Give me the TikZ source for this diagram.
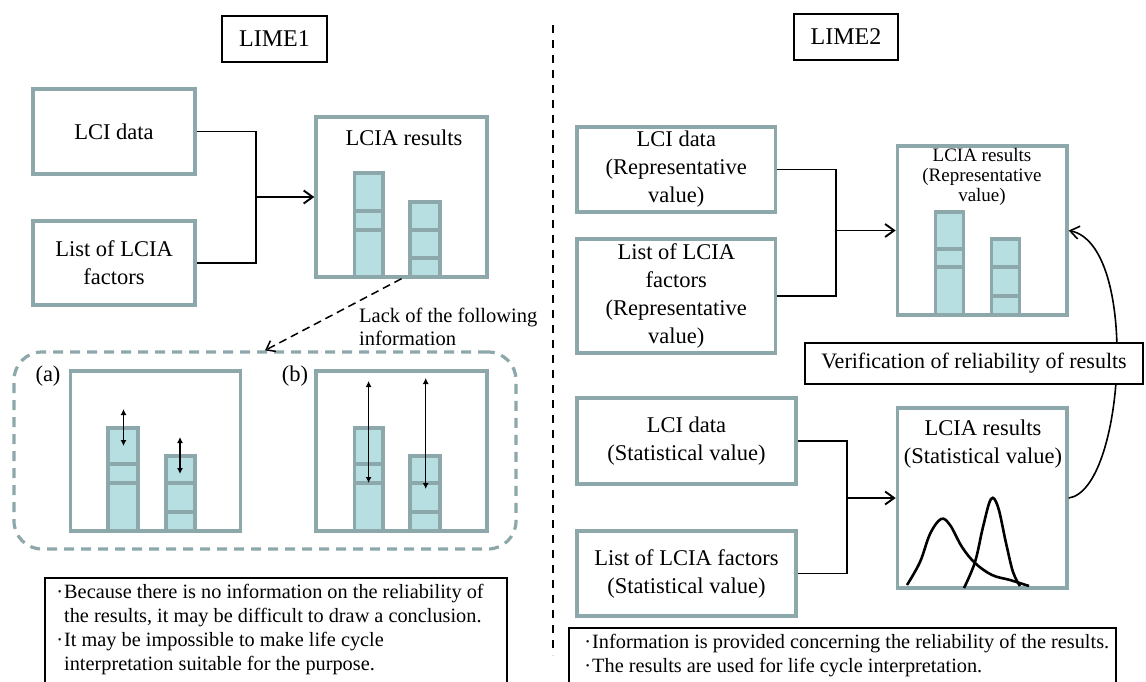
\documentclass[tikz,border=0pt]{standalone}
\usepackage{fontspec}
\setmainfont{Liberation Serif}
\usetikzlibrary{arrows.meta}
\definecolor{tealline}{RGB}{140,168,171}
\definecolor{barfill}{RGB}{183,222,224}
\newcommand{\stackbar}[6]{%
  \draw[barline] (#1,#6) rectangle (#2,#3);
  \draw[barline] (#1,#4) -- (#2,#4);
  \draw[barline] (#1,#5) -- (#2,#5);
}
\newcommand{\bul}{\makebox[9pt][c]{·}}
\tikzset{
  tbox/.style={draw=tealline, line width=3.4pt, fill=white, inner sep=0pt, align=center,
    font=\fontsize{22.5}{28}\selectfont},
  bbox/.style={draw=black, line width=1.8pt, fill=white, inner sep=0pt, align=center},
  barline/.style={draw=tealline, fill=barfill, line width=3.2pt},
  conn/.style={line width=1.9pt, black},
  arr/.style={conn, -{Straight Barb[length=9pt,width=13pt,line width=1.9pt]}},
  dbl/.style={line width=1.3pt, {Latex[length=6pt,width=6pt]}-{Latex[length=6pt,width=6pt]}},
  lbl/.style={inner sep=0pt, align=center, font=\fontsize{22.5}{28}\selectfont},
  note/.style={inner sep=0pt, align=left, font=\fontsize{20.3}{24}\selectfont},
}
\begin{document}
\begin{tikzpicture}[x=1pt,y=-1pt]
\useasboundingbox (0,0) rectangle (1146,681);
\clip (0,0) rectangle (1146,681);

% separator
\draw[line width=2pt, dash pattern=on 8pt off 7pt] (553,25) -- (553,655);

% ---------------- LIME1 ----------------
\node[bbox, minimum width=105pt, minimum height=46pt, font=\fontsize{24}{28}\selectfont] (lime1) at (274.5,39) {LIME1};

\node[tbox, minimum width=162pt, minimum height=85pt] (lci1) at (114,131.5) {LCI data};
\node[tbox, minimum width=162pt, minimum height=84pt] (lst1) at (114,263) {List of LCIA\\factors};
\node[tbox, minimum width=171pt, minimum height=160pt] (res1) at (401.5,197) {};
\node[lbl] (res1t) at (404,138) {LCIA results};
\stackbar{354.6}{383}{173}{211}{230}{277}
\stackbar{410}{440}{202}{230}{258}{277}

\coordinate (j1) at (256,197);
\draw[conn] (lci1.east) -| (j1) |- (lst1.east);
\draw[arr] (j1) -- (res1.west);

% lack box
\node[draw=tealline, line width=3.2pt, dash pattern=on 10pt off 7pt, rounded corners=28pt,
      minimum width=502pt, minimum height=197pt, inner sep=0pt] (lack) at (265,450.5) {};
\draw[line width=1.5pt, dash pattern=on 8pt off 5pt, -{Straight Barb[length=8pt,width=12pt,line width=1.5pt]}]
  (res1.south) -- (lack.north);
\node[note, anchor=west, font=\fontsize{20.5}{23}\selectfont] (lacklbl) at (359,326.5) {Lack of the following\\information};

\node[tbox, minimum width=170pt, minimum height=160pt] (suba) at (155.6,451) {};
\node[tbox, minimum width=171pt, minimum height=160pt] (subb) at (401.5,451) {};
\node[lbl] (alab) at (48,376) {(a)};
\node[lbl] (blab) at (295,376) {(b)};
\stackbar{108}{138}{428}{464}{483}{531}
\stackbar{166}{195}{456}{483}{512}{531}
\stackbar{354.6}{383}{428}{464}{483}{531}
\stackbar{410}{440}{456}{483}{512}{531}
\draw[dbl] (123.5,409) -- (123.5,446);
\draw[dbl] (180,437) -- (180,474);
\draw[dbl] (368.6,381) -- (368.6,483);
\draw[dbl] (425.7,378) -- (425.7,489);

\node[bbox, minimum width=462pt, minimum height=120pt, anchor=north west] (note1) at (44,577) {};
\node[note, anchor=north west] (note1t) at (55,584) {%
\bul Because there is no information on the reliability of\\
\hspace*{9pt}the results, it may be difficult to draw a conclusion.\\
\bul It may be impossible to make life cycle\\
\hspace*{9pt}interpretation suitable for the purpose.};

% ---------------- LIME2 ----------------
\node[bbox, minimum width=104pt, minimum height=46pt, font=\fontsize{24}{28}\selectfont] (lime2) at (846,37) {LIME2};

\node[tbox, minimum width=198.6pt, minimum height=85pt] (lci2) at (676.3,169.5) {LCI data\\(Representative\\value)};
\node[tbox, minimum width=198.6pt, minimum height=114pt] (lst2) at (676.3,296) {List of LCIA\\factors\\(Representative\\value)};
\node[tbox, minimum width=169.6pt, minimum height=169pt] (res2) at (982.2,230.5) {};
\node[lbl, font=\fontsize{19}{20}\selectfont] (res2t) at (982,177) {LCIA results\\(Representative\\value)};
\stackbar{935.6}{963.6}{212}{249}{267}{315}
\stackbar{991.6}{1019.6}{239}{267}{296}{315}
\coordinate (j2) at (835.8,230.5);
\draw[conn] (lci2.east) -| (j2) |- (lst2.east);
\draw[arr] (j2) -- (res2.west);

\node[tbox, minimum width=219pt, minimum height=86pt] (lci3) at (686.5,441) {LCI data\\(Statistical value)};
\node[tbox, minimum width=219pt, minimum height=85pt] (lst3) at (686.5,573.5) {List of LCIA factors\\(Statistical value)};
\node[tbox, minimum width=169.6pt, minimum height=180pt] (res3) at (982.2,498) {};
\node[lbl] (res3t) at (983,444.5) {LCIA results\\(Statistical value)};
\coordinate (j3) at (847,498);
\draw[conn] (lci3.east) -| (j3) |- (lst3.east);
\draw[arr] (j3) -- (res3.west);

\draw[line width=2.6pt, black] plot[smooth, tension=0.6] coordinates
  {(907,585) (920,562) (930,534) (941,519) (950,525) (962,547) (975,563) (992,575) (1010,580) (1029,586)};
\draw[line width=2.6pt, black] plot[smooth, tension=0.6] coordinates
  {(964,588) (975,562) (983,527) (991,499) (998,507) (1006,543) (1013,572) (1020,586)};

\draw[line width=1.6pt, -{Straight Barb[length=9pt,width=13pt,line width=1.6pt]}]
  (res3.east) .. controls (1125,490) and (1140,245) .. (res2.east);

\node[bbox, minimum width=338pt, minimum height=41pt, font=\fontsize{22}{26}\selectfont] (verif) at (974,363.5) {Verification of reliability of results};

\node[bbox, minimum width=547pt, minimum height=80pt, anchor=north west] (note2) at (568,627) {};
\node[note, anchor=north west] (note2t) at (583,634) {%
\bul Information is provided concerning the reliability of the results.\\
\bul The results are used for life cycle interpretation.};
\end{tikzpicture}
\end{document}
